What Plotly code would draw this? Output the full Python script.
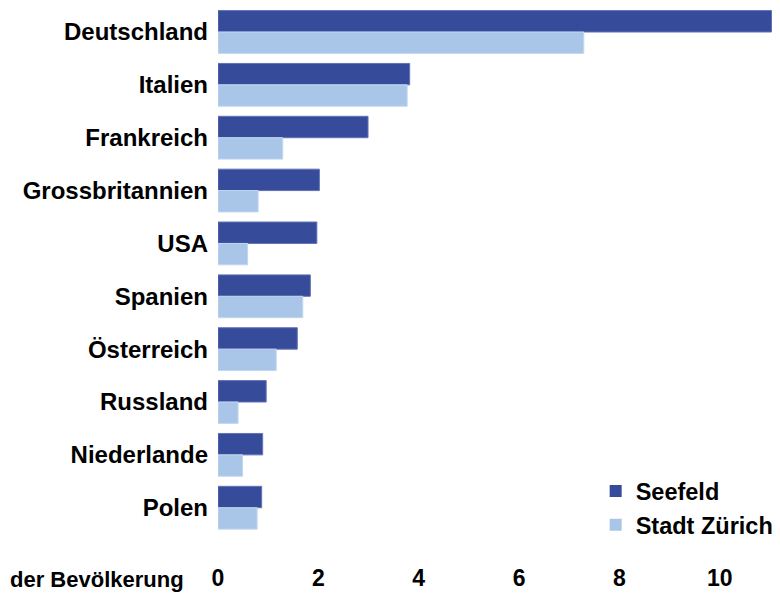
import plotly.graph_objects as go

categories = ["Deutschland", "Italien", "Frankreich", "Grossbritannien", "USA",
              "Spanien", "Österreich", "Russland", "Niederlande", "Polen"]
seefeld = [11.03, 3.82, 2.99, 2.02, 1.97, 1.84, 1.58, 0.96, 0.89, 0.87]
stadt_zuerich = [7.29, 3.77, 1.29, 0.80, 0.59, 1.69, 1.16, 0.40, 0.49, 0.78]
x_ticks = [0, 2, 4, 6, 8, 10]
x_title = "der Bevölkerung"
series_names = ["Seefeld", "Stadt Zürich"]
series_colors = ["#364B9A", "#A9C6E9"]
series_edges = ["#6272B4", "#C3D7F0"]

FONT = "Liberation Sans, Arial, sans-serif"

fig = go.Figure()
for name, vals, col, edge in zip(series_names, [seefeld, stadt_zuerich],
                                 series_colors, series_edges):
    fig.add_trace(go.Bar(
        y=categories, x=vals, name=name, orientation="h", showlegend=False,
        marker=dict(color=col, line=dict(color=edge, width=1)),
    ))
# legend entries with larger square swatches
for name, col in zip(series_names, series_colors):
    fig.add_trace(go.Scatter(
        x=[None], y=[None], mode="markers", name=name,
        marker=dict(symbol="square", size=16, color=col),
    ))

# page has an 8px body margin: figure is sized 8px smaller to fit the window
fig.update_layout(
    width=772, height=587,
    margin=dict(l=210, r=0, t=0, b=60.6),
    paper_bgcolor="white", plot_bgcolor="white",
    barmode="group", bargap=0.19, bargroupgap=0,
    font=dict(family=FONT, color="black"),
    showlegend=True,
    legend=dict(
        x=0.672, y=0.123, xanchor="left", yanchor="top",
        traceorder="normal", itemsizing="constant",
        font=dict(size=23.5, family=FONT, color="black", weight="bold"),
        bgcolor="rgba(0,0,0,0)",
        tracegroupgap=0,
    ),
    xaxis=dict(
        range=[0, 11.2], tickvals=x_ticks, ticktext=[str(v) for v in x_ticks],
        showgrid=False, zeroline=False, showline=False, ticks="",
        tickfont=dict(size=23, family=FONT, color="black", weight="bold"),
        ticklabelstandoff=28,
    ),
    yaxis=dict(
        range=[9.497, -0.454], showgrid=False, zeroline=False, showline=False,
        ticks="", ticklabelstandoff=9,
        tickfont=dict(size=24, family=FONT, color="black", weight="bold"),
    ),
    annotations=[dict(
        text=x_title, xref="paper", yref="paper", x=-32 / 562, y=0,
        xanchor="right", yanchor="top", yshift=-30.5, showarrow=False,
        font=dict(size=22, family=FONT, color="black", weight="bold"),
    )],
)

fig.write_html("out.html")
